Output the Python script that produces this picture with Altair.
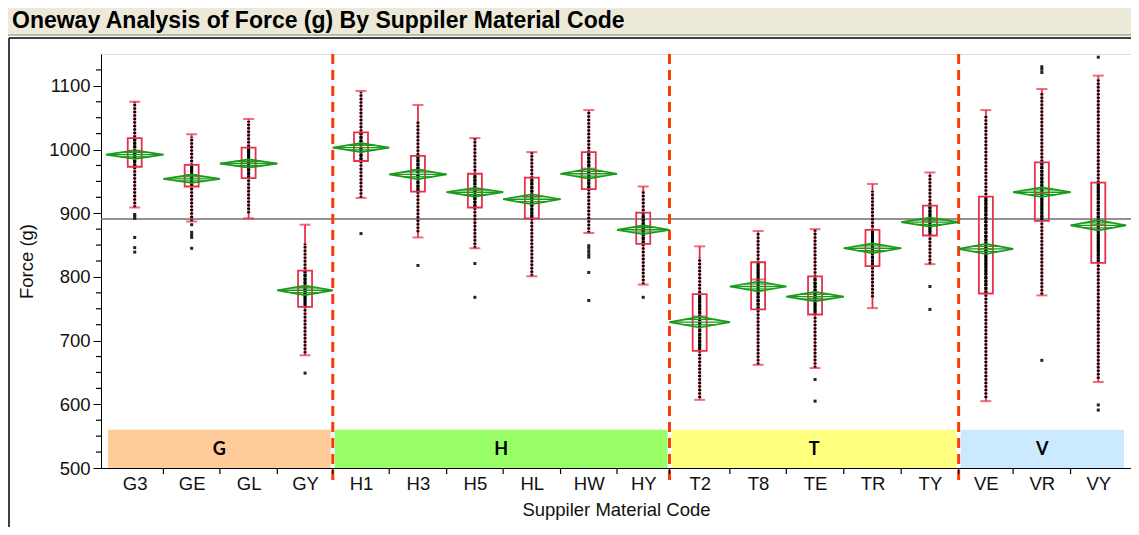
import altair as alt
import pandas as pd

# ---------------- data ----------------
codes = ["G3", "GE", "GL", "GY", "H1", "H3", "H5", "HL", "HW", "HY",
         "T2", "T8", "TE", "TR", "TY", "VE", "VR", "VY"]
groups = ["G"] * 4 + ["H"] * 6 + ["T"] * 5 + ["V"] * 3
rel_size = [58, 57, 58, 56, 57, 58, 57, 58, 57, 53, 61, 57, 58, 58, 58, 55, 58, 56]
whisker_lo = [909, 887, 892, 677, 924, 862, 845, 801, 869, 788, 607, 662, 657, 751, 820, 605, 771, 635]
quart1 = [973, 942, 955, 753, 982, 934, 909, 892, 938, 852, 684, 749, 741, 817, 865, 774, 888, 822]
medians = [998, 960, 981, 784, 1009, 968, 937, 926, 970, 878, 738, 796, 766, 841, 888, 844, 931, 882]
quart3 = [1018, 976, 1003, 810, 1027, 990, 962, 956, 996, 901, 773, 823, 801, 874, 912, 926, 980, 948]
whisker_hi = [1075, 1024, 1048, 882, 1092, 1070, 1018, 996, 1062, 942, 848, 872, 875, 946, 964, 1062, 1095, 1116]
means = [992, 954, 978, 779, 1003, 961, 933, 922, 962, 874, 729, 785, 769, 845, 886, 844, 933, 881]
ci_half = [6.8, 6.5, 6.5, 7.5, 7.0, 7.5, 7.0, 7.8, 7.5, 7.0, 8.4, 7.8, 7.5, 7.5, 7.0, 8.0, 7.5, 8.0]
points_lo = [909, 887, 900, 680, 924, 870, 845, 801, 869, 788, 610, 662, 657, 768, 820, 610, 772, 640]
points_hi = [1075, 1020, 1045, 852, 1090, 1045, 1018, 996, 1060, 935, 830, 870, 875, 935, 960, 1055, 1090, 1110]

outlier_codes = ["G3"] * 6 + ["GE"] * 5 + ["GY", "H1", "H3", "H5", "H5"] + ["HW"] * 7 + \
                ["HY", "TE", "TE", "TY", "TY", "VR", "VR", "VR", "VR", "VY", "VY", "VY"]
outlier_vals = [898, 895, 892, 862, 846, 839,
                882, 870, 866, 862, 845,
                649, 868, 818, 821, 768,
                849, 845, 840, 835, 831, 807, 763,
                768, 639, 605, 785, 749, 1130, 1126, 1121, 669, 1145, 599, 591]

grand_mean = [891]
band_groups = ["G", "H", "T", "V"]
band_colors = ["#FFCC99", "#99FF66", "#FFFF80", "#CCEAFF"]
band_range = [500, 560]
band_label_value = 528
y_major = [500, 600, 700, 800, 900, 1000, 1100]
y_minor = [525, 550, 575, 625, 650, 675, 725, 750, 775, 825, 850, 875,
           925, 950, 975, 1025, 1050, 1075, 1125]

RED = "#E8304A"
GREEN = "#1A9A1A"
FONT = "Liberation Sans"
FS = 18.5

# ---------------- tables ----------------
n = len(codes)
left_edges = []
acc = 0
for w in rel_size:
    left_edges.append(acc)
    acc += w
total = acc
centers = [l + w / 2 for l, w in zip(left_edges, rel_size)]
right_edges = [l + w for l, w in zip(left_edges, rel_size)]

df = pd.DataFrame({
    "x": centers, "code": codes, "group": groups,
    "xl": left_edges, "xr": right_edges, "w": rel_size,
    "wlo": whisker_lo, "q1": quart1, "med": medians, "q3": quart3, "whi": whisker_hi,
    "mean": means, "ci": ci_half, "plo": points_lo, "phi": points_hi,
})
df["oxl"] = df["x"] - 0.25 * df["w"]
df["oxr"] = df["x"] + 0.25 * df["w"]
df["ohi"] = df["mean"] + 0.5 * df["ci"]
df["olo"] = df["mean"] - 0.5 * df["ci"]

dia_rows = []
for i, c in enumerate(codes):
    m, h = means[i], ci_half[i]
    pts = [(left_edges[i], m), (centers[i], m + h), (right_edges[i], m),
           (centers[i], m - h), (left_edges[i], m)]
    for k, (dx, dy) in enumerate(pts):
        dia_rows.append({"code": c, "k": k, "dx": dx, "dy": dy})
dia = pd.DataFrame(dia_rows)

idx = {c: i for i, c in enumerate(codes)}
out = pd.DataFrame({"x": [centers[idx[c]] for c in outlier_codes], "v": outlier_vals})

bstart, bend = [], []
for g in band_groups:
    members = [i for i, gg in enumerate(groups) if gg == g]
    bstart.append(left_edges[min(members)])
    bend.append(right_edges[max(members)])
bands = pd.DataFrame({
    "grp": band_groups,
    "bx": [s + 2 for s in bstart],
    "bx2": [e - 2 for e in bend],
    "bc": [(s + e) / 2 for s, e in zip(bstart, bend)],
    "blo": [band_range[0]] * 4, "bhi": [band_range[1]] * 4,
    "by": [band_label_value] * 4,
})
seps = pd.DataFrame({"b": bend[:-1]})
bticks = pd.DataFrame({"t": right_edges[:-1]})
minor = pd.DataFrame({"mt": y_minor})
gm = pd.DataFrame({"gm": grand_mean})
one = pd.DataFrame({"a": [0]})

# ---------------- scales / axes ----------------
centers_js = "[" + ",".join(repr(float(c)) for c in centers) + "]"
codes_js = "[" + ",".join("'%s'" % c for c in codes) + "]"
label_js = codes_js + "[indexof(" + centers_js + ", datum.value)]"
xscale = alt.Scale(domain=[0, total], nice=False, zero=False)
yscale = alt.Scale(domain=[500, 1150], nice=False, zero=False)
xaxis = alt.Axis(values=[float(c) for c in centers], labelExpr=label_js, tickSize=0, grid=False,
                 title="Suppiler Material Code", labelFontSize=FS, titleFontSize=FS,
                 labelPadding=6, titlePadding=8, titleFontWeight="normal",
                 labelColor="#111", titleColor="#111", domainColor="black",
                 labelFont=FONT, titleFont=FONT)
yaxis = alt.Axis(values=y_major, format="d", tickSize=8, grid=False, title="Force (g)",
                 labelFontSize=FS, titleFontSize=FS, labelPadding=3, titlePadding=12,
                 titleFontWeight="normal", labelColor="#111", titleColor="#111",
                 domainColor="black", tickColor="black", labelFont=FONT, titleFont=FONT)


def X(f="x"):
    return alt.X(f, type="quantitative", scale=xscale, axis=xaxis)


def Y(f):
    return alt.Y(f, type="quantitative", scale=yscale, axis=yaxis)


base = alt.Chart(df)

band_rect = alt.Chart(bands).mark_rect().encode(
    x=X("bx"), x2="bx2", y=Y("blo"), y2="bhi",
    color=alt.Color("grp:N", scale=alt.Scale(domain=band_groups, range=band_colors), legend=None))
band_text = alt.Chart(bands).mark_text(fontSize=18, fontWeight="bold", font="Lato", color="black").encode(
    x=X("bc"), y=Y("by"), text="grp:N")
gm_line = alt.Chart(gm).mark_rule(color="#6E6E6E", strokeWidth=1.5).encode(y=Y("gm"))
sep_lines = alt.Chart(seps).mark_rule(color="#FF3A0A", strokeWidth=3, strokeDash=[10, 6]).encode(
    x=X("b"), y=alt.value(0), y2=alt.value(426))
whisk = base.mark_rule(color=RED, strokeWidth=1.8).encode(x=X(), y=Y("wlo"), y2="whi")
dots_all = base.mark_rule(color="black", strokeWidth=3, strokeDash=[2, 1.5]).encode(
    x=X(), y=Y("plo"), y2="phi")
dots_core = base.mark_rule(color="black", strokeWidth=3, strokeDash=[3, 0.7]).encode(
    x=X(), y=Y("q1"), y2="q3")
box = base.mark_bar(size=14, fillOpacity=0, stroke=RED, strokeWidth=1.8).encode(
    x=X(), y=Y("q1"), y2="q3")
med_tick = base.mark_tick(orient="horizontal", size=14, thickness=2, color=RED).encode(x=X(), y=Y("med"))
cap_lo = base.mark_tick(orient="horizontal", size=11, thickness=2, color=RED).encode(x=X(), y=Y("wlo"))
cap_hi = base.mark_tick(orient="horizontal", size=11, thickness=2, color=RED).encode(x=X(), y=Y("whi"))
diamond = alt.Chart(dia).mark_line(color=GREEN, strokeWidth=1.7).encode(
    x=X("dx"), y=Y("dy"), detail="code:N", order="k:Q")
mean_line = base.mark_rule(color=GREEN, strokeWidth=1.4).encode(x=X("xl"), x2="xr", y=Y("mean"))
ov_hi = base.mark_rule(color=GREEN, strokeWidth=1.2).encode(x=X("oxl"), x2="oxr", y=Y("ohi"))
ov_lo = base.mark_rule(color=GREEN, strokeWidth=1.2).encode(x=X("oxl"), x2="oxr", y=Y("olo"))
outl = alt.Chart(out).mark_square(size=9, color="#222", opacity=1).encode(x=X(), y=Y("v"))
btick = alt.Chart(bticks).mark_rule(color="black", strokeWidth=1.2).encode(
    x=X("t"), y=alt.value(414), y2=alt.value(420))
mtick = alt.Chart(minor).mark_rule(color="black", strokeWidth=1.2).encode(
    y=Y("mt"), x=alt.value(-5), x2=alt.value(0))

title_bar = alt.Chart(one).mark_rect(fill="#ECE9D8", stroke="#A9A79C", strokeWidth=1.5,
                                     cornerRadius=5).encode(
    x=alt.value(-98), x2=alt.value(1040), y=alt.value(-51), y2=alt.value(-19))
title_text = alt.Chart(one).mark_text(align="left", baseline="alphabetic", fontSize=23,
                                      fontWeight="bold", font=FONT, color="black").encode(
    x=alt.value(-89), y=alt.value(-26),
    text=alt.value("Oneway Analysis of Force (g) By Suppiler Material Code"))
frame_left = alt.Chart(one).mark_rule(color="black", strokeWidth=1.5).encode(
    x=alt.value(-92), y=alt.value(-16), y2=alt.value(480))
frame_top = alt.Chart(one).mark_rule(color="black", strokeWidth=1.5).encode(
    x=alt.value(-92), x2=alt.value(1040), y=alt.value(-16))

chart = alt.layer(
    band_rect, gm_line, sep_lines, band_text, whisk, dots_all, dots_core, box, med_tick,
    cap_lo, cap_hi, diamond, mean_line, ov_hi, ov_lo, outl, btick, mtick,
    title_bar, title_text, frame_left, frame_top,
).properties(
    width=1030, height=414,
    autosize=alt.AutoSizeParams(type="none"),
    padding={"left": 93, "top": 46, "right": 0, "bottom": 59},
    background="white",
).configure_view(stroke="black", strokeWidth=1.2).configure(font=FONT)

chart.save("out.html", embed_options={"renderer": "svg", "actions": False})
